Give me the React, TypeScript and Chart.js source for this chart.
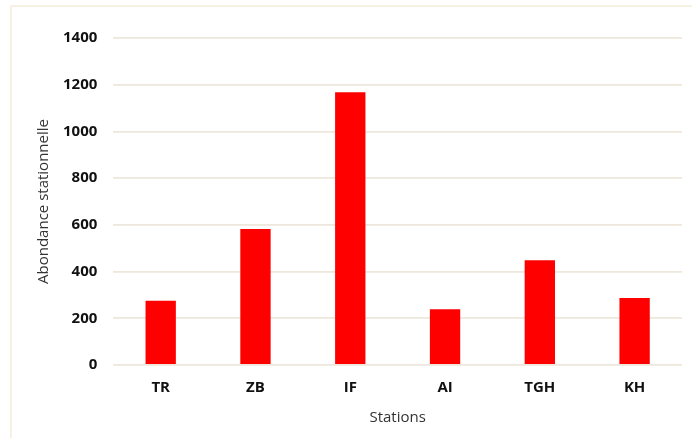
import React, { useEffect, useRef } from "react";
import { Chart, registerables } from "chart.js";

Chart.register(...registerables);

const stations = ["TR", "ZB", "IF", "AI", "TGH", "KH"];
const abondance = [275, 582, 1168, 239, 449, 287];
const yTitle = "Abondance stationnelle";
const xTitle = "Stations";

const framePlugin = {
  id: "frame",
  beforeDraw(chart: any) {
    const ctx = chart.ctx;
    ctx.save();
    ctx.fillStyle = "#ffffff";
    ctx.fillRect(0, 0, chart.width, chart.height);
    ctx.strokeStyle = "#f7f1e3";
    ctx.lineWidth = 2;
    ctx.beginPath();
    ctx.moveTo(11, chart.height);
    ctx.lineTo(11, 6);
    ctx.lineTo(chart.width, 6);
    ctx.stroke();
    ctx.restore();
  },
};

export default function App() {
  const ref = useRef<HTMLCanvasElement>(null);
  useEffect(() => {
    const chart = new Chart(ref.current!, {
      type: "bar",
      data: {
        labels: stations,
        datasets: [
          {
            data: abondance,
            backgroundColor: "#ff0000",
            borderWidth: 0,
            barPercentage: 0.32,
            categoryPercentage: 1,
          },
        ],
      },
      options: {
        animation: false,
        responsive: false,
        maintainAspectRatio: false,
        layout: { padding: { left: 35, right: 10, top: 38, bottom: 11 } },
        plugins: { legend: { display: false }, tooltip: { enabled: false } },
        scales: {
          x: {
            grid: { display: false, drawTicks: false },
            border: { display: false },
            ticks: {
              color: "#111",
              font: { family: "Open Sans", size: 15, weight: "bold" },
              padding: 14,
            },
            title: {
              display: true,
              text: xTitle,
              color: "#333",
              font: { family: "Open Sans", size: 15 },
              padding: { top: -2, bottom: 0 },
            },
          },
          y: {
            min: 0,
            max: 1400,
            afterFit: (scale: any) => {
              scale.width -= 6;
            },
            ticks: {
              stepSize: 200,
              color: "#111",
              font: { family: "Open Sans", size: 15, weight: "bold" },
              padding: 16,
              callback: (v: any) => String(v),
            },
            grid: { color: "#ede7dc", lineWidth: 1.8, drawTicks: false },
            border: { display: false },
            title: {
              display: true,
              text: yTitle,
              color: "#333",
              font: { family: "Open Sans", size: 15 },
              padding: { top: 0, bottom: 0 },
            },
          },
        },
      },
      plugins: [framePlugin],
    });
    return () => chart.destroy();
  }, []);
  return (
    <div style={{ position: "fixed", left: 0, top: 0, width: 692, height: 438 }}>
      <canvas ref={ref} width={692} height={438} style={{ display: "block" }} />
    </div>
  );
}
